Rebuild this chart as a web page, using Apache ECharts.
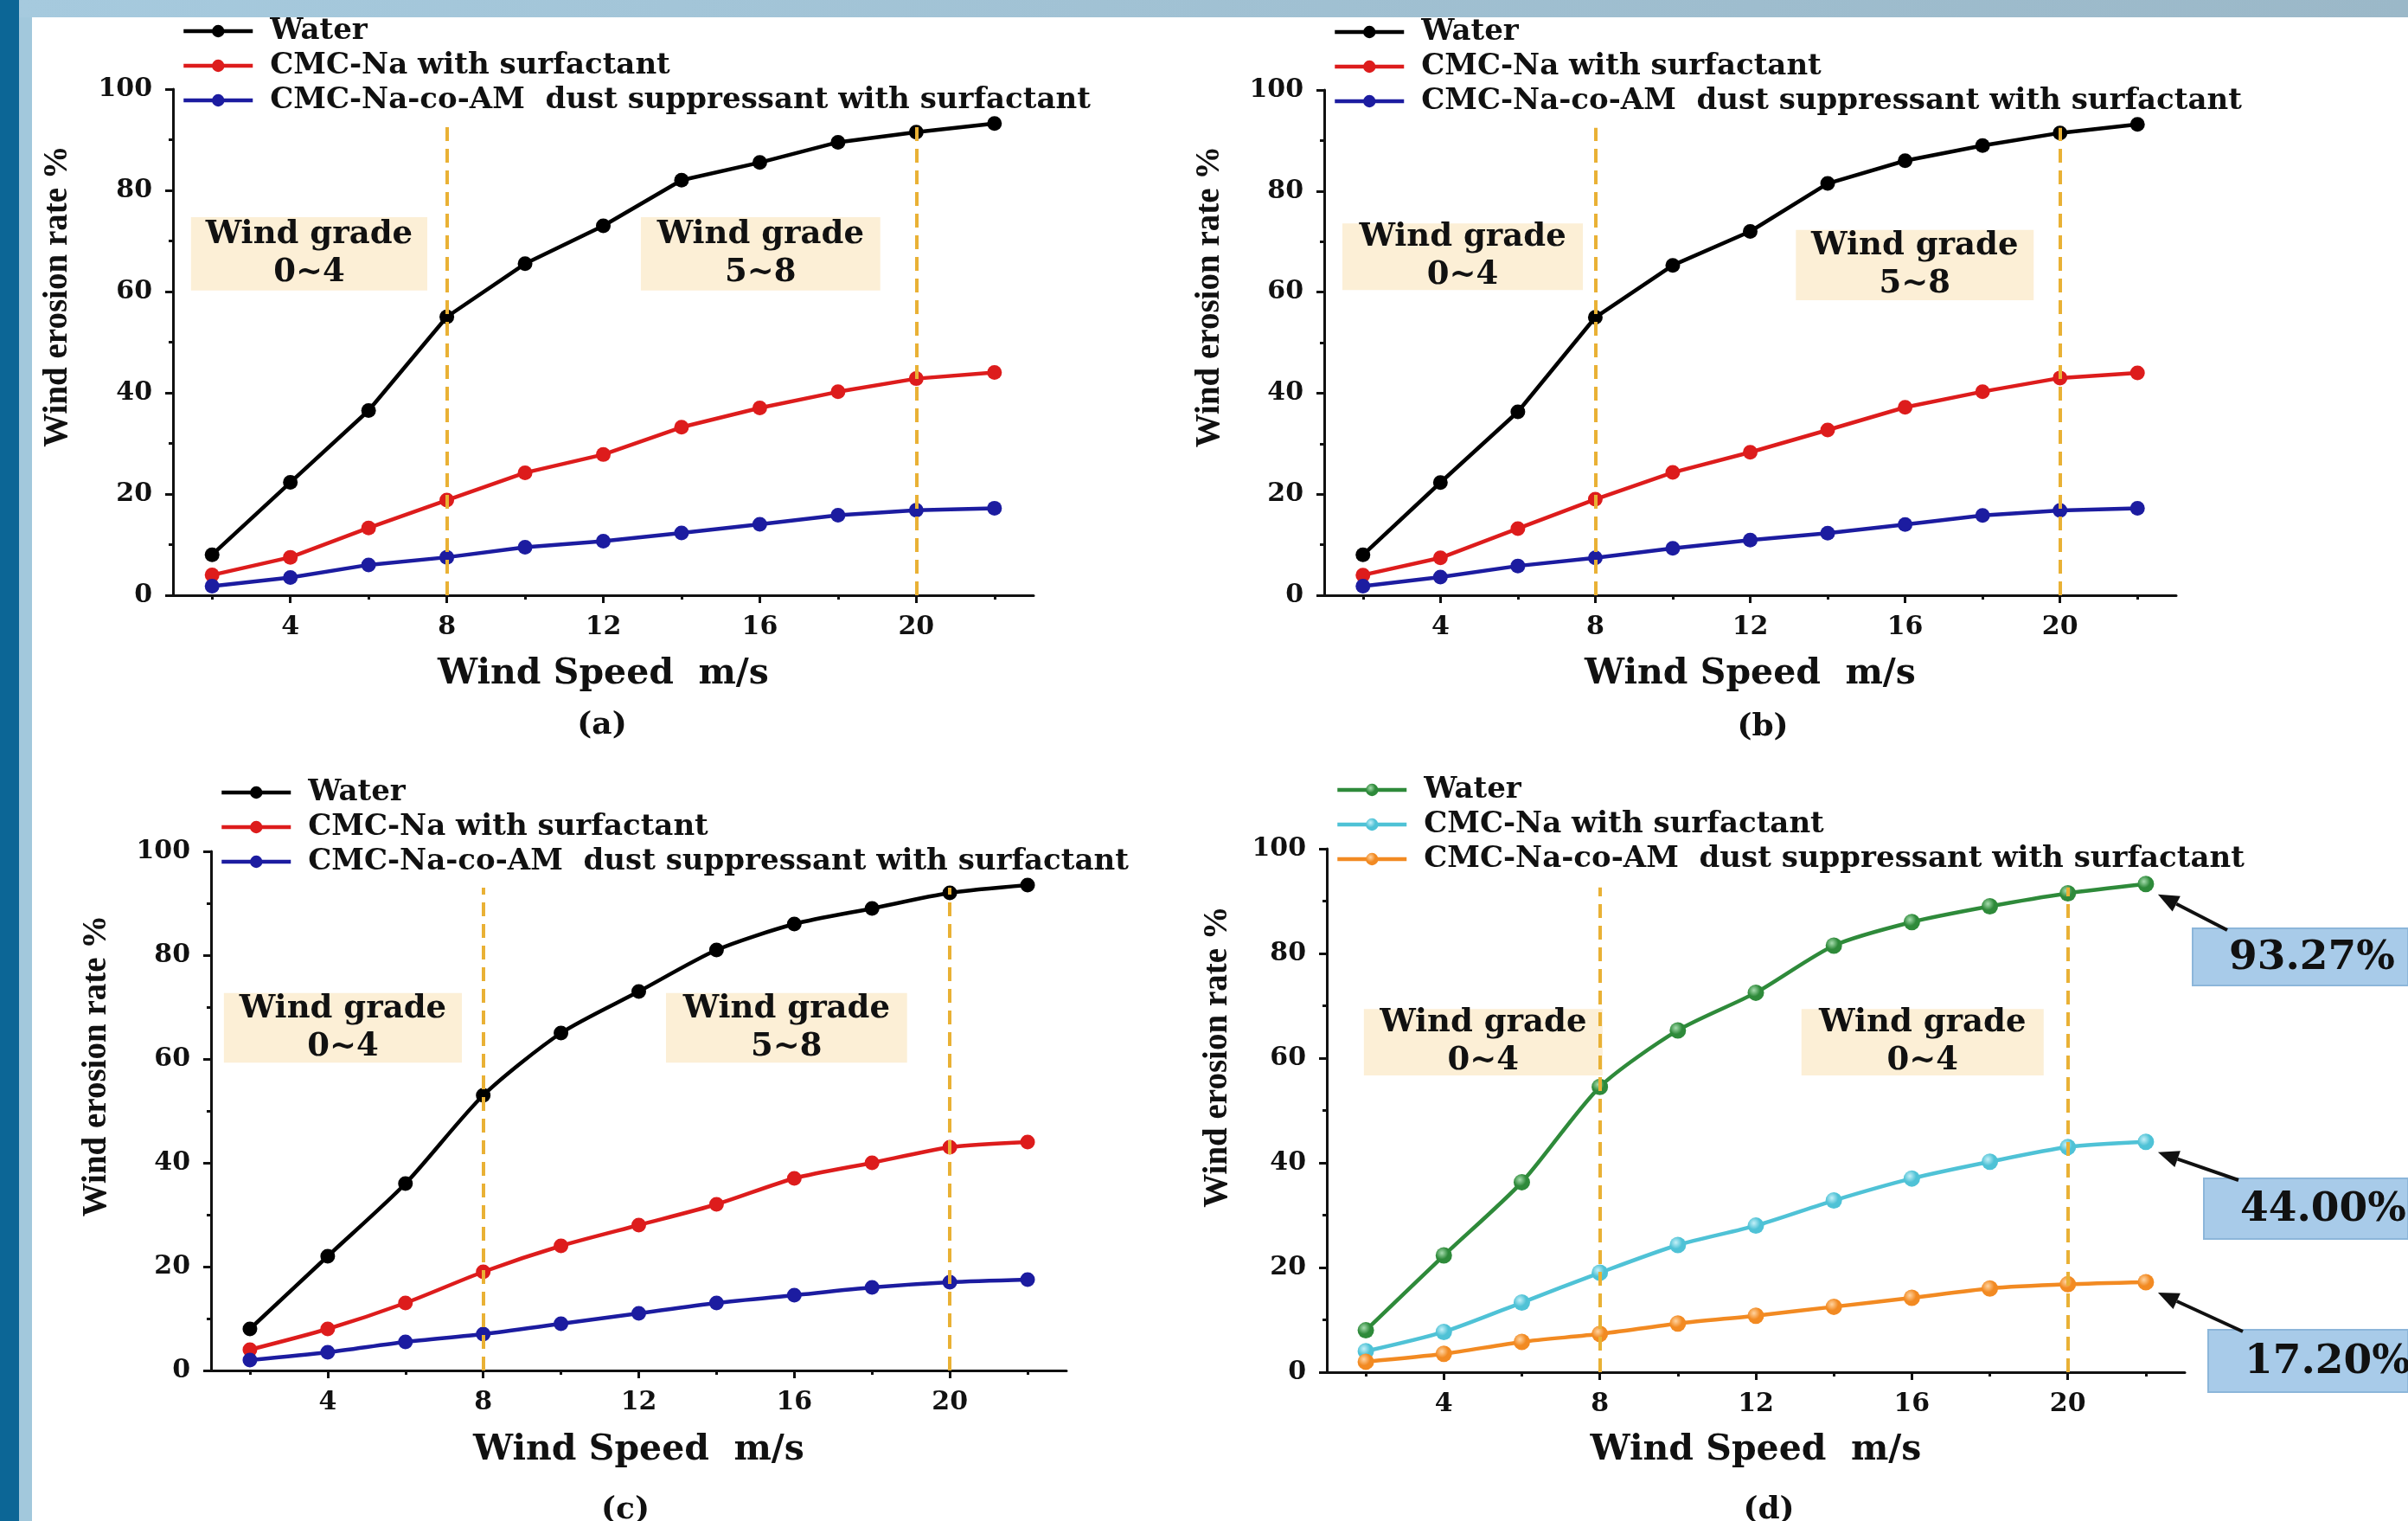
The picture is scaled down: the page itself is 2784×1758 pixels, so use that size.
<!DOCTYPE html>
<html>
<head>
<meta charset="utf-8">
<title>Wind erosion rate</title>
<script src="https://cdn.jsdelivr.net/npm/echarts@6/dist/echarts.min.js"></script>
<style>
html, body { margin: 0; padding: 0; background: #fff; }
#chart { width: 2784px; height: 1758px; }
</style>
</head>
<body>
<div id="chart"></div>
<script>
// wind speed, m/s
const windSpeed = [2, 4, 6, 8, 10, 12, 14, 16, 18, 20, 22];
const majorTicks = [4, 8, 12, 16, 20];
const minorTicks = [2, 6, 10, 14, 18, 22];
const seriesNames = ["Water", "CMC-Na with surfactant", "CMC-Na-co-AM  dust suppressant with surfactant"];

// wind erosion rate %, panel (a)
const waterA = [8.0, 22.3, 36.5, 55.0, 65.5, 73.0, 82.0, 85.5, 89.5, 91.5, 93.2];
const cmcA = [4.0, 7.5, 13.3, 18.8, 24.2, 27.8, 33.2, 37.0, 40.2, 42.8, 44.0];
const amA = [1.8, 3.5, 6.0, 7.5, 9.5, 10.7, 12.3, 14.0, 15.8, 16.8, 17.2];
// panel (b)
const waterB = [8.0, 22.3, 36.3, 55.0, 65.3, 72.0, 81.5, 86.0, 89.0, 91.5, 93.2];
const cmcB = [4.0, 7.4, 13.2, 19.0, 24.3, 28.3, 32.7, 37.2, 40.3, 43.0, 44.0];
const amB = [1.8, 3.6, 5.8, 7.4, 9.3, 10.9, 12.3, 14.0, 15.8, 16.8, 17.2];
// panel (c)
const waterC = [8.0, 22.0, 36.0, 53.0, 65.0, 73.0, 81.0, 86.0, 89.0, 92.0, 93.5];
const cmcC = [4.0, 8.0, 13.0, 19.0, 24.0, 28.0, 32.0, 37.0, 40.0, 43.0, 44.0];
const amC = [2.0, 3.5, 5.5, 7.0, 9.0, 11.0, 13.0, 14.5, 16.0, 17.0, 17.5];
// panel (d)
const waterD = [8.0, 22.3, 36.3, 54.5, 65.3, 72.5, 81.5, 86.0, 89.0, 91.5, 93.27];
const cmcD = [4.0, 7.7, 13.3, 19.0, 24.3, 28.0, 32.8, 37.0, 40.2, 43.0, 44.0];
const amD = [2.0, 3.5, 5.8, 7.3, 9.3, 10.8, 12.5, 14.2, 16.0, 16.8, 17.2];

const gradeBounds = [8, 20];
const gradeTextAB = ["Wind grade\n0~4", "Wind grade\n5~8"];
const gradeTextD = ["Wind grade\n0~4", "Wind grade\n0~4"];
const panelTags = ["(a)", "(b)", "(c)", "(d)"];

const FONT = "DejaVu Serif";
const classic = ["#000000", "#dd1c1c", "#1c1ca0"];
const bright = ["#2e8a3a", "#4fc2d6", "#f28a22"];
const brightLight = ["#a6dcae", "#c4f0f8", "#ffd3a0"];

function ball(k) {
  return {
    type: "radial", x: 0.38, y: 0.35, r: 0.7,
    colorStops: [{ offset: 0, color: brightLight[k] }, { offset: 0.55, color: bright[k] }, { offset: 1, color: bright[k] }]
  };
}

const panels = [
  { grid: { left: 200, top: 103, width: 995, height: 585 }, legend: { left: 210, top: 19 },
    data: [waterA, cmcA, amA], colors: classic, smooth: false, grades: gradeTextAB, dashTop: 92.5,
    boxes: [[1.46, 74.7, 7.5, 60.2], [12.96, 74.7, 19.08, 60.2]], tag: [696, 839], nameShift: 106, nameGap: 114, xNameGap: 71 },
  { grid: { left: 1531, top: 104, width: 985, height: 584 }, legend: { left: 1541, top: 20 },
    data: [waterB, cmcB, amB], colors: classic, smooth: false, grades: gradeTextAB, dashTop: 92.5,
    boxes: [[1.47, 73.6, 7.68, 60.4], [13.18, 72.3, 19.32, 58.4]], tag: [2038, 841], nameShift: 106, nameGap: 113, xNameGap: 71 },
  { grid: { left: 244, top: 984, width: 989, height: 600 }, legend: { left: 254, top: 899 },
    data: [waterC, cmcC, amC], colors: classic, smooth: 0.25, grades: gradeTextAB, dashTop: 93,
    boxes: [[1.33, 72.7, 7.45, 59.3], [12.7, 72.7, 18.9, 59.3]], tag: [723, 1746], nameShift: 104, nameGap: 113, xNameGap: 72 },
  { grid: { left: 1534, top: 981, width: 992, height: 605 }, legend: { left: 1544, top: 896 },
    data: [waterD, cmcD, amD], colors: bright, smooth: 0.25, grades: gradeTextD, dashTop: 92.6, ball: true,
    boxes: [[1.95, 69.4, 8.07, 56.7], [13.17, 69.4, 19.38, 56.7]], tag: [2045, 1746], nameShift: 124, nameGap: 107, xNameGap: 70 }
];

const grids = [], xAxes = [], minorAxes = [], yAxes = [], legends = [], series = [];

panels.forEach((p, i) => {
  grids.push(p.grid);
  xAxes.push({
    gridIndex: i, type: "value", position: "bottom", min: 1, max: 23,
    name: "Wind Speed  m/s", nameLocation: "middle", nameGap: p.xNameGap,
    nameTextStyle: { fontFamily: FONT, fontWeight: "bold", fontSize: 41, color: "#111" },
    axisLine: { lineStyle: { color: "#111", width: 3 } },
    axisTick: { customValues: majorTicks, length: 9, lineStyle: { width: 3, color: "#111" } },
    axisLabel: { customValues: majorTicks, margin: 22, fontFamily: FONT, fontWeight: "bold", fontSize: 30, color: "#111" },
    splitLine: { show: false }
  });
  minorAxes.push({
    gridIndex: i, type: "value", position: "bottom", min: 1, max: 23,
    axisLine: { show: false },
    axisTick: { customValues: minorTicks, length: 5, lineStyle: { width: 3, color: "#111" } },
    axisLabel: { show: false },
    splitLine: { show: false }
  });
  yAxes.push({
    gridIndex: i, type: "value", min: 0, max: 100, interval: 20,
    name: "Wind erosion rate %", nameLocation: "middle", nameGap: p.nameGap,
    nameTextStyle: { fontFamily: "Liberation Serif", fontWeight: "bold", fontSize: 39, color: "#111", padding: [0, 0, 0, p.nameShift] },
    axisLine: { show: true, lineStyle: { color: "#111", width: 3 } },
    axisTick: { show: true, length: 9, lineStyle: { width: 3, color: "#111" } },
    minorTick: { show: true, splitNumber: 2, length: 5, lineStyle: { width: 3, color: "#111" } },
    axisLabel: { margin: 24, fontFamily: FONT, fontWeight: "bold", fontSize: 30, color: "#111" },
    splitLine: { show: false }
  });
  legends.push({
    orient: "vertical", left: p.legend.left, top: p.legend.top, padding: 0,
    itemWidth: 80, itemHeight: 18, itemGap: 6,
    lineStyle: { width: 4.5 },
    textStyle: { fontFamily: FONT, fontWeight: "bold", fontSize: 34, color: "#111", lineHeight: 34, padding: [0, 0, 0, 15] },
    data: seriesNames.map((n, k) => p.ball
      ? { name: n, itemStyle: { color: ball(k) }, lineStyle: { color: bright[k], width: 4.5 } }
      : { name: n })
  });
  p.data.forEach((vals, k) => {
    const s = {
      name: seriesNames[k], type: "line", xAxisIndex: i, yAxisIndex: i,
      data: windSpeed.map((x, j) => [x, vals[j]]),
      symbol: "circle", symbolSize: p.ball ? 19 : 17, smooth: p.smooth,
      lineStyle: { color: p.colors[k], width: 4.5 },
      itemStyle: { color: p.ball ? ball(k) : p.colors[k] },
      z: 3
    };
    if (k === 0) {
      s.markArea = {
        silent: true,
        itemStyle: { color: "#fcefd6" },
        label: { show: true, position: "inside", fontFamily: FONT, fontWeight: "bold", fontSize: 37, lineHeight: 44, color: "#111" },
        data: p.boxes.map((b, m) => [{ name: p.grades[m], coord: [b[0], b[1]] }, { coord: [b[2], b[3]] }])
      };
      s.markLine = {
        silent: true, symbol: "none",
        label: { show: false },
        lineStyle: { color: "#e9b135", width: 4, type: [16, 9] },
        data: gradeBounds.map(g => [{ coord: [g, 0] }, { coord: [g, p.dashTop] }])
      };
    }
    series.push(s);
  });
});

const chart = echarts.init(document.getElementById("chart"));
chart.setOption({
  animation: false,
  backgroundColor: "#ffffff",
  grid: grids,
  xAxis: xAxes.concat(minorAxes),
  yAxis: yAxes,
  legend: legends,
  series: series
});

// frame, panel tags and the value call-outs of panel (d)
const graphic = [
  { type: "rect", shape: { x: 0, y: 0, width: 22, height: 1758 }, style: { fill: "#0c6696" } },
  { type: "rect", shape: { x: 22, y: 0, width: 15, height: 1758 }, style: { fill: "#a2c8dc" } },
  { type: "rect", shape: { x: 22, y: 0, width: 2762, height: 20 },
    style: { fill: { type: "linear", x: 0, y: 0, x2: 1, y2: 0, colorStops: [{ offset: 0, color: "#a6cade" }, { offset: 1, color: "#9bb8c8" }] } } }
];
panels.forEach((p, i) => {
  graphic.push({ type: "text", x: p.tag[0], y: p.tag[1],
    style: { text: panelTags[i], fontFamily: FONT, fontWeight: "bold", fontSize: 36, fill: "#111", align: "center", verticalAlign: "middle" } });
});

const callouts = [{ x: 2535, y: 1073, h: 66 }, { x: 2548, y: 1362, h: 70 }, { x: 2553, y: 1537, h: 72 }];
panels[3].data.forEach((vals, k) => {
  const last = vals[vals.length - 1];
  const pt = chart.convertToPixel({ seriesIndex: 9 + k }, [windSpeed[windSpeed.length - 1], last]);
  const c = callouts[k];
  graphic.push({ type: "rect", shape: { x: c.x, y: c.y, width: 2784 - c.x, height: c.h },
    style: { fill: "#a8cbe9", stroke: "#8cb6da", lineWidth: 2 } });
  graphic.push({ type: "text", x: c.x + 42, y: c.y + c.h / 2 + 2,
    style: { text: last.toFixed(2) + "%", fontFamily: FONT, fontWeight: "bold", fontSize: 47, fill: "#111", verticalAlign: "middle" } });
  // arrow from box corner to the last point
  const sx = c.x + 40, sy = c.y + 2;
  const tx = pt[0] + 14, ty = pt[1] + 12;
  const ang = Math.atan2(ty - sy, tx - sx);
  const hl = 24, hw = 10;
  const bx = tx - hl * Math.cos(ang), by = ty - hl * Math.sin(ang);
  graphic.push({ type: "line", shape: { x1: sx, y1: sy, x2: bx, y2: by }, style: { stroke: "#111", lineWidth: 4 } });
  graphic.push({ type: "polygon", shape: { points: [[tx, ty],
    [bx + hw * Math.sin(ang), by - hw * Math.cos(ang)],
    [bx - hw * Math.sin(ang), by + hw * Math.cos(ang)]] }, style: { fill: "#111" } });
});

chart.setOption({ graphic: graphic });
</script>
</body>
</html>
